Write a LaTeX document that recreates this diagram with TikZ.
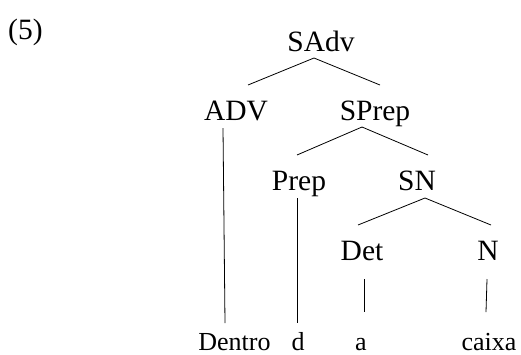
\documentclass[tikz,border=0pt]{standalone}
\usepackage{fontspec}
\setmainfont{Liberation Serif}
\usetikzlibrary{calc}
\tikzset{
  lbl/.style={anchor=base, inner sep=0pt, font=\fontsize{29.5}{35}\selectfont},
  wrd/.style={anchor=base, inner sep=0pt, font=\fontsize{26}{30}\selectfont},
  br/.style={line width=0.8pt, black}
}
\begin{document}
\begin{tikzpicture}[x=1pt,y=-1pt]
\useasboundingbox (0,0) rectangle (521,354);
\fill[white] (0,0) rectangle (521,354);
\node[lbl, anchor=base west] (ex) at (8,39) {(5)};
\node[lbl] (SAdv) at (321,51) {SAdv};
\node[lbl] (ADV) at (236,120) {ADV};
\node[lbl] (SPrep) at (375,120) {SPrep};
\node[lbl] (Prep) at (299,190) {Prep};
\node[lbl] (SN) at (417,190) {SN};
\node[lbl] (Det) at (362,260) {Det};
\node[lbl] (N) at (488,260) {N};
\node[wrd] (w1) at (234.5,350) {Dentro};
\node[wrd] (w2) at (298,350) {d};
\node[wrd] (w3) at (361,350) {a};
\node[wrd] (w4) at (489,350) {caixa};
% SAdv branches
\draw[br] ($(SAdv.base)+(-7,7)$) -- ($(ADV.base)+(12,-35)$);
\draw[br] ($(SAdv.base)+(-7,7)$) -- ($(SPrep.base)+(5,-35)$);
% SPrep branches
\draw[br] ($(SPrep.base)+(-13,7)$) -- ($(Prep.base)+(-2,-35)$);
\draw[br] ($(SPrep.base)+(-13,7)$) -- ($(SN.base)+(11,-35)$);
% SN branches
\draw[br] ($(SN.base)+(8,8)$) -- ($(Det.base)+(-4,-35)$);
\draw[br] ($(SN.base)+(8,8)$) -- ($(N.base)+(3,-35)$);
% terminals
\draw[br] ($(ADV.base)+(-13,8)$) -- ($(w1.base)+(-9.5,-27)$);
\draw[br] ($(Prep.base)+(-2,8)$) -- ($(w2.base)+(-1,-27)$);
\draw[br] ($(Det.base)+(2,19)$) -- ($(w3.base)+(3,-38)$);
\draw[br] ($(N.base)+(-1,19)$) -- ($(w4.base)+(-3,-38)$);
\end{tikzpicture}
\end{document}
